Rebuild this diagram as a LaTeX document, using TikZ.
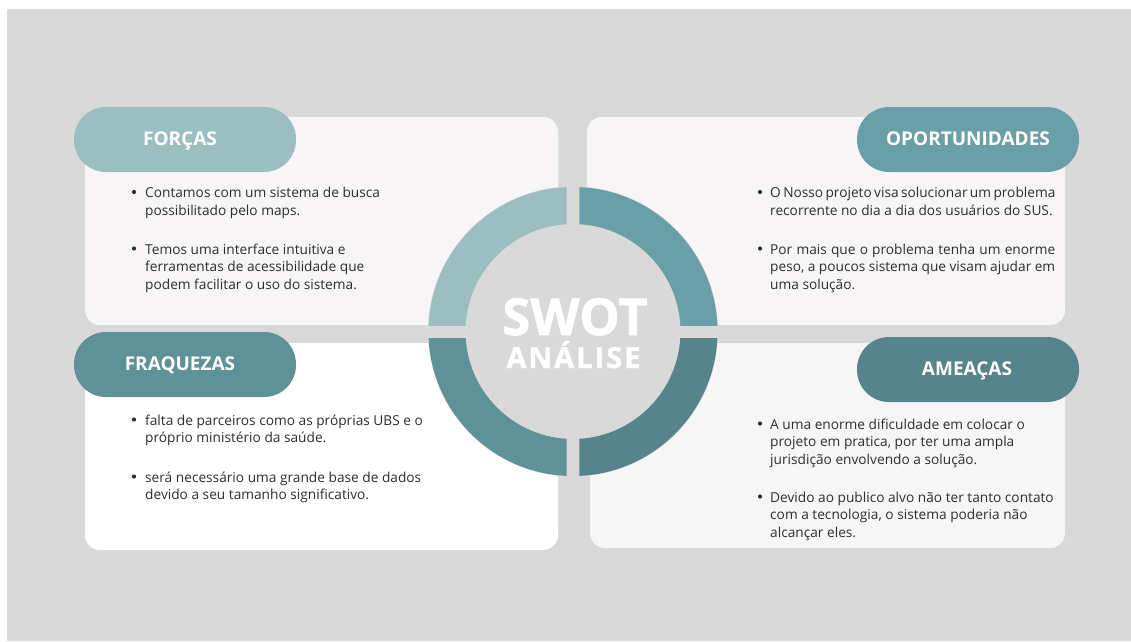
\documentclass[tikz,border=0pt]{standalone}
\usepackage{fontspec}
\setmainfont{Open Sans}
\definecolor{bg}{HTML}{D9D9D9}
\definecolor{boxA}{HTML}{F7F5F6}
\definecolor{boxB}{HTML}{FFFFFF}
\definecolor{boxC}{HTML}{F7F6F7}
\definecolor{cS}{HTML}{9DBEC1}
\definecolor{cO}{HTML}{6A9FA8}
\definecolor{cW}{HTML}{5E9298}
\definecolor{cT}{HTML}{55858A}
\definecolor{ink}{HTML}{2E2E2E}
\tikzset{
  quad/.style={rounded corners=15pt},
  pill/.style={rounded corners=32pt},
  head/.style={anchor=base, inner sep=0pt, text=white, font=\fontsize{19}{19}\selectfont\bfseries},
  txt/.style={anchor=base west, inner sep=0pt, text=ink, font=\fontsize{13.7}{16}\selectfont},
  bul/.style={circle, fill=ink, inner sep=0pt, minimum size=4.2pt},
}
\newcommand{\jl}[1]{\makebox[285pt][s]{#1}}
\begin{document}
\begin{tikzpicture}[x=1pt,y=-1pt]
\useasboundingbox (0,0) rectangle (1131,641);
\fill[white] (0,0) rectangle (1131,641);
\fill[bg] (7,9) rectangle (1131,641);
% quadrant boxes
\fill[boxA,quad] (85,117) rectangle (558,325);
\fill[boxA,quad] (587,117) rectangle (1065,325);
\fill[boxB,quad] (85,343) rectangle (558,550);
\fill[boxC,quad] (590,343) rectangle (1065,548);
% pills
\fill[cS,pill] (74,107) rectangle (296,172);
\fill[cO,pill] (857,107) rectangle (1079,172);
\fill[cW,pill] (74,332) rectangle (296,397);
\fill[cT,pill] (857,337) rectangle (1079,402);
\node[head] (hS) at (180,145.5) {FORÇAS};
\node[head] (hO) at (968,145.5) {OPORTUNIDADES};
\node[head] (hW) at (180,370.5) {FRAQUEZAS};
\node[head] (hT) at (967,375.5) {AMEAÇAS};
% ring
\fill[bg] (573,331.5) circle[radius=145pt];
\begin{scope}
\clip (566.7,325.2) rectangle (420,180);
\fill[cS,even odd rule] (573,331.5) circle[radius=144.5pt] circle[radius=107.5pt];
\end{scope}
\begin{scope}
\clip (579.3,325.2) rectangle (730,180);
\fill[cO,even odd rule] (573,331.5) circle[radius=144.5pt] circle[radius=107.5pt];
\end{scope}
\begin{scope}
\clip (566.7,338.2) rectangle (420,490);
\fill[cW,even odd rule] (573,331.5) circle[radius=144.5pt] circle[radius=107.5pt];
\end{scope}
\begin{scope}
\clip (579.3,338.2) rectangle (730,490);
\fill[cT,even odd rule] (573,331.5) circle[radius=144.5pt] circle[radius=107.5pt];
\end{scope}
\node[anchor=base, inner sep=0pt, text=white, font=\fontsize{51}{51}\selectfont\bfseries\addfontfeature{FakeBold=1.2}] (swot) at (575,335) {SWOT};
\node[anchor=base, inner sep=0pt, text=white, font=\fontsize{29}{29}\selectfont\bfseries\addfontfeature{FakeBold=1.2,LetterSpace=7}] (analise) at (573.5,368) {ANÁLISE};
% Forças
\node[bul] (sb1) at (134,192) {};
\node[txt] (s1) at (145,197.5) {Contamos com um sistema de busca};
\node[txt] (s2) at (145,215) {possibilitado pelo maps.};
\node[bul] (sb2) at (134,248.5) {};
\node[txt] (s3) at (145,254) {Temos uma interface intuitiva e};
\node[txt] (s4) at (145,271.5) {ferramentas de acessibilidade que};
\node[txt] (s5) at (145,289) {podem facilitar o uso do sistema.};
% Oportunidades
\node[bul] (ob1) at (760,192) {};
\node[txt] (o1) at (770,197.5) {\jl{O Nosso projeto visa solucionar um problema}};
\node[txt] (o2) at (770,215) {recorrente no dia a dia dos usuários do SUS.};
\node[bul] (ob2) at (760,248.5) {};
\node[txt] (o3) at (770,254) {\jl{Por mais que o problema tenha um enorme}};
\node[txt] (o4) at (770,271.5) {\jl{peso, a poucos sistema que visam ajudar em}};
\node[txt] (o5) at (770,289) {uma solução.};
% Fraquezas
\node[bul] (wb1) at (134,419.5) {};
\node[txt] (w1) at (145,425) {falta de parceiros como as próprias UBS e o};
\node[txt] (w2) at (145,442.5) {próprio ministério da saúde.};
\node[bul] (wb2) at (134,476.5) {};
\node[txt] (w3) at (145,482) {será necessário uma grande base de dados};
\node[txt] (w4) at (145,499.5) {devido a seu tamanho significativo.};
% Ameaças
\node[bul] (tb1) at (760,423.5) {};
\node[txt] (t1) at (770,429) {A uma enorme dificuldade em colocar o};
\node[txt] (t2) at (770,446.5) {projeto em pratica, por ter uma ampla};
\node[txt] (t3) at (770,464) {jurisdição envolvendo a solução.};
\node[bul] (tb2) at (760,496.5) {};
\node[txt] (t4) at (770,502) {Devido ao publico alvo não ter tanto contato};
\node[txt] (t5) at (770,519.5) {com a tecnologia, o sistema poderia não};
\node[txt] (t6) at (770,537) {alcançar eles.};
\end{tikzpicture}
\end{document}
